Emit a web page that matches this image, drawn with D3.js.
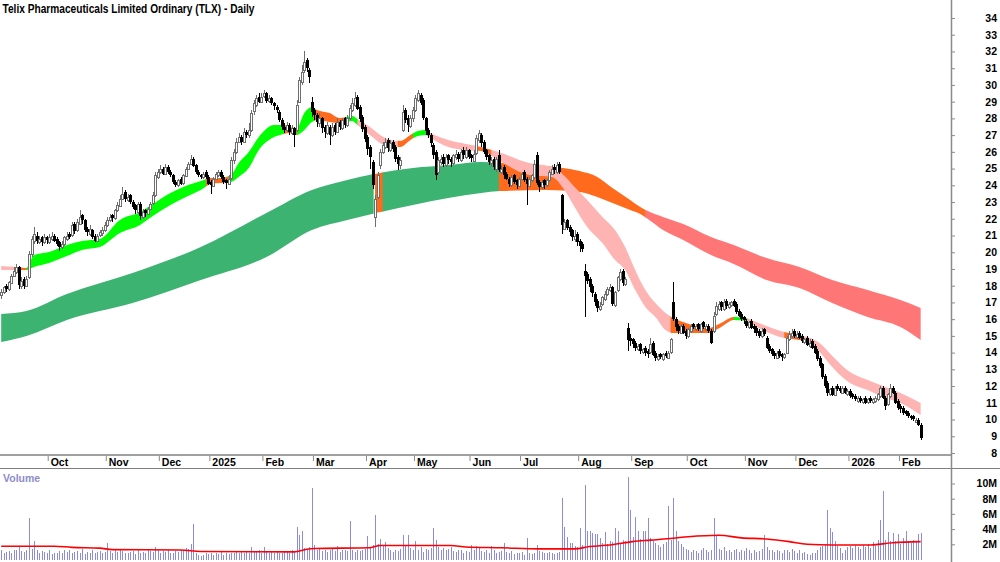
<!DOCTYPE html>
<html>
<head>
<meta charset="utf-8">
<script src="https://cdn.jsdelivr.net/npm/d3@7"></script>
<style>
  body { margin: 0; background: #fff; }
  svg { display: block; font-family: "Liberation Sans", Arial, sans-serif; }
</style>
</head>
<body>
<svg width="1000" height="562"></svg>
<script>
// ---------- data ----------
const title = "Telix Pharmaceuticals Limited Ordinary (TLX) - Daily";
const firstDay = "2024-09-04";
// ASX non-trading weekdays inside the range
const holidays = ["2024-12-25","2024-12-26","2025-01-01","2025-01-27","2025-04-18","2025-04-21",
  "2025-04-25","2025-06-09","2025-12-25","2025-12-26","2026-01-01","2026-01-26"];
const monthLabels = ["Oct","Nov","Dec","2025","Feb","Mar","Apr","May","Jun","Jul","Aug","Sep",
  "Oct","Nov","Dec","2026","Feb"];
const priceTicks = d3.range(8, 35);
const volTicks = [2, 4, 6, 8, 10];

const open = [
  17.4,17.6,18.0,17.8,18.2,18.6,18.8,19.1,18.0,18.4, 18.0,18.5,19.9,20.7,21.0,20.6,20.9,20.6,20.9,20.6,
  20.8,21.0,20.8,20.6,20.3,20.5,20.8,21.1,21.0,21.7, 21.3,21.7,22.2,21.9,21.4,21.1,21.3,21.0,20.7,21.0,
  21.1,21.3,21.6,21.9,22.2,22.0,22.5,22.8,23.2,23.6, 23.1,23.4,23.0,22.8,22.4,22.9,22.1,22.5,22.3,22.6,
  22.9,23.4,24.5,24.8,25.0,24.7,25.1,24.8,24.6,24.2, 24.0,24.4,24.1,24.6,25.0,25.3,25.6,25.2,24.8,24.6,
  24.5,24.8,24.5,24.2,24.0,24.4,24.6,24.8,24.5,24.3, 24.1,24.4,25.5,26.0,26.6,26.9,26.6,27.2,27.0,27.3,
  28.4,28.8,29.3,29.0,29.3,29.5,29.0,29.2,28.9,28.7, 28.4,27.9,27.5,27.3,27.6,27.1,27.4,27.3,29.0,30.2,
  30.9,31.5,30.9,29.0,28.5,28.2,27.7,28.0,27.5,27.1, 27.5,27.0,27.6,27.2,27.8,27.4,28.0,27.6,28.0,28.5,
  28.8,29.3,28.7,28.1,27.5,26.9,26.3,25.4,22.1,23.3, 25.2,26.0,26.3,26.7,26.1,26.6,26.3,25.7,25.2,27.3,
  28.5,28.0,27.5,28.0,28.5,29.1,29.4,29.1,28.0,27.3, 27.0,26.4,26.0,24.8,25.4,25.7,25.2,25.8,25.6,25.3,
  25.7,25.9,25.5,26.1,25.7,26.1,25.8,25.5,25.9,26.7, 27.0,26.6,26.1,25.8,25.3,25.6,25.0,25.8,24.8,25.1,
  24.7,24.4,24.0,24.6,24.3,24.0,24.4,24.8,24.4,24.0, 24.3,24.5,25.8,24.2,23.9,24.3,24.0,24.3,24.7,25.1,
  24.8,25.3,23.4,21.4,21.9,21.5,21.3,20.8,21.1,20.7, 20.5,18.9,18.7,18.4,18.0,17.5,17.1,16.6,16.9,17.2,
  17.5,17.7,17.9,16.8,17.7,18.4,18.9,18.1,15.5,14.9, 14.8,14.6,14.2,14.5,14.0,14.3,14.1,14.0,14.6,14.0,
  13.6,13.9,13.6,14.0,13.7,14.0,17.0,16.0,15.6,15.2, 15.6,15.3,15.0,15.3,15.7,15.4,15.7,15.3,15.8,15.4,
  15.6,15.3,15.3,16.3,16.6,17.0,16.6,17.1,16.7,16.8, 17.1,16.9,16.5,16.3,16.1,15.9,15.5,15.9,15.6,15.5,
  15.3,15.0,15.4,14.9,14.4,14.2,14.0,13.7,14.1,13.9, 13.7,14.0,14.8,15.0,15.3,14.9,15.2,15.0,14.6,14.9,
  14.4,14.7,14.4,14.1,13.7,13.3,12.6,12.2,11.5,11.9, 11.5,12.0,11.9,11.6,11.9,11.5,11.7,11.5,11.4,11.1,
  11.3,11.0,11.3,11.0,11.3,11.0,11.1,11.2,11.4,11.9, 11.3,10.9,11.4,11.9,11.6,11.1,10.8,10.7,10.5,10.4,
  10.2,10.2,9.9,10.0,9.7
];
const high = [
  17.8,18.0,18.1,18.3,18.7,19.1,19.3,19.2,18.5,18.5, 18.6,20.1,21.0,21.5,21.2,21.0,21.0,21.1,21.0,21.1,
  21.2,21.1,20.9,20.7,20.7,21.0,21.2,21.2,21.8,21.8, 22.0,22.5,22.3,22.0,21.5,21.6,21.4,21.1,21.1,21.3,
  21.5,21.8,22.1,22.3,22.3,22.6,23.0,23.4,23.9,23.7, 23.5,23.5,23.1,22.9,23.0,23.0,22.6,22.6,22.7,23.0,
  23.6,24.8,25.0,25.2,25.1,25.3,25.2,24.9,24.7,24.3, 24.4,24.5,24.7,25.1,25.4,25.8,25.7,25.3,24.9,24.7,
  24.8,24.9,24.6,24.3,24.5,24.8,24.9,24.9,24.6,24.4, 24.6,25.7,26.2,26.8,27.1,27.0,27.4,27.3,27.7,28.5,
  29.1,29.4,29.5,29.5,29.7,29.6,29.4,29.3,29.0,28.8, 28.5,28.0,27.7,27.8,27.7,27.6,27.5,29.1,30.5,31.2,
  32.0,31.6,31.0,29.3,28.6,28.3,28.3,28.1,27.6,27.8, 27.6,27.7,27.7,28.0,27.9,28.0,28.1,28.2,28.8,29.2,
  29.6,29.4,28.8,28.2,27.6,27.0,26.4,25.5,23.4,24.8, 26.2,26.6,26.8,26.8,26.7,26.7,26.4,25.8,25.7,28.8,
  28.6,28.2,28.2,28.7,29.4,29.7,29.5,29.2,28.1,27.4, 27.1,26.5,26.1,25.7,25.8,25.9,25.9,25.9,25.7,25.9,
  26.1,26.0,26.2,26.3,26.3,26.2,25.9,26.1,27.0,27.3, 27.1,26.7,26.2,25.9,25.7,25.7,25.7,26.1,25.2,25.2,
  24.8,24.5,24.6,24.7,24.4,24.5,24.8,24.9,24.5,24.5, 24.7,25.5,26.0,24.3,24.3,24.4,24.4,24.9,25.2,25.3,
  25.4,25.4,23.5,22.0,22.0,21.6,21.4,21.3,21.2,20.8, 20.6,19.3,18.8,18.5,18.1,17.6,17.2,17.0,17.4,17.7,
  17.9,18.1,18.0,17.7,18.6,19.0,19.0,18.5,15.8,15.1, 14.9,14.7,14.5,14.6,14.3,14.4,14.2,14.9,14.7,14.1,
  13.9,14.0,14.0,14.1,14.1,14.9,18.2,16.1,15.7,15.7, 15.7,15.4,15.5,15.7,15.8,15.7,15.8,15.8,15.9,15.7,
  15.7,15.4,16.4,17.0,17.1,17.1,17.2,17.2,17.0,17.1, 17.2,17.0,16.6,16.4,16.2,16.0,15.9,16.0,15.7,15.6,
  15.4,15.5,15.5,15.0,14.5,14.3,14.1,14.1,14.2,14.0, 14.0,15.0,15.3,15.4,15.4,15.3,15.3,15.1,14.9,15.0,
  14.8,14.8,14.5,14.2,13.8,13.4,12.7,12.3,11.9,12.0, 12.0,12.1,12.0,12.0,12.0,11.8,11.8,11.6,11.5,11.4,
  11.4,11.3,11.4,11.3,11.4,11.3,11.4,11.6,12.0,12.0, 11.4,11.6,12.1,12.0,11.7,11.2,10.9,10.8,10.6,10.5,
  10.3,10.3,10.1,10.1,9.8
];
const low = [
  17.2,17.5,17.6,17.7,18.1,18.5,18.7,17.8,17.8,17.8, 17.9,18.4,19.7,20.5,20.5,20.5,20.4,20.5,20.5,20.5,
  20.7,20.6,20.4,20.1,20.2,20.4,20.7,20.8,20.9,21.1, 21.2,21.6,21.7,21.2,21.0,21.0,20.8,20.6,20.6,20.9,
  21.0,21.2,21.5,21.8,21.8,21.9,22.4,22.7,23.1,23.0, 23.0,22.9,22.6,22.3,22.3,21.9,22.0,22.1,22.2,22.5,
  22.8,23.3,24.4,24.7,24.6,24.6,24.7,24.5,24.1,23.9, 23.9,24.0,24.0,24.5,24.9,25.2,25.1,24.7,24.5,24.4,
  24.4,24.4,24.0,23.5,23.9,24.3,24.5,24.4,24.1,23.8, 24.0,24.3,25.3,25.9,26.5,26.4,26.5,26.8,26.8,27.2,
  28.2,28.7,28.9,28.9,29.2,28.9,28.9,28.8,28.5,28.3, 27.8,27.3,27.1,27.2,27.0,27.0,26.3,27.2,28.9,30.0,
  30.7,30.8,30.1,28.1,27.9,27.5,27.5,27.1,26.8,27.0, 26.4,26.9,27.0,27.1,27.3,27.3,27.4,27.5,27.9,28.4,
  28.7,28.5,27.8,27.2,26.6,25.8,25.0,23.8,21.5,23.2, 25.0,25.9,26.2,26.0,26.0,26.0,25.4,24.9,25.0,27.2,
  27.7,27.2,27.4,27.8,28.4,29.0,28.8,27.9,27.0,26.8, 26.3,25.6,24.3,24.7,25.2,25.1,25.1,25.3,25.1,25.2,
  25.5,25.4,25.4,25.6,25.6,25.6,25.4,25.4,25.8,26.5, 26.3,25.9,25.5,25.2,25.1,24.9,24.8,24.8,24.7,24.4,
  24.3,23.9,23.9,24.1,23.8,23.9,24.3,24.2,22.8,23.9, 24.2,24.4,24.0,23.6,23.8,23.8,23.9,24.2,24.6,24.7,
  24.7,24.7,21.1,21.3,21.3,21.0,20.7,20.6,20.4,20.0, 20.0,16.1,18.1,17.6,17.3,16.8,16.4,16.5,16.8,17.1,
  17.4,17.6,16.8,16.7,17.6,18.3,18.0,18.0,14.1,14.4, 14.3,14.1,14.1,13.9,13.9,13.8,13.7,13.9,13.8,13.5,
  13.5,13.6,13.5,13.7,13.6,13.9,15.9,15.3,15.1,15.1, 15.1,14.8,14.9,15.2,15.4,15.3,15.3,15.2,15.4,15.3,
  15.2,14.5,15.2,16.2,16.5,16.5,16.5,16.6,16.6,16.7, 16.7,16.3,16.1,15.9,15.7,15.5,15.4,15.4,15.2,15.0,
  14.9,14.9,15.0,14.2,14.0,13.8,13.6,13.6,13.7,13.5, 13.6,13.9,14.7,14.9,14.9,14.8,14.8,14.6,14.5,14.4,
  14.3,14.2,13.9,13.5,13.1,12.4,11.9,11.4,11.4,11.4, 11.4,11.7,11.6,11.5,11.5,11.4,11.3,11.2,11.1,11.0,
  11.0,10.9,10.9,10.9,11.0,10.9,11.0,11.1,11.3,11.2, 10.6,10.8,11.3,11.5,10.9,10.6,10.4,10.3,10.2,10.1,
  10.0,9.9,9.8,9.6,8.8
];
const close = [
  17.6,17.9,17.8,18.2,18.6,18.9,19.1,18.0,18.3,18.0, 18.4,19.9,20.8,21.1,20.7,20.8,20.6,20.9,20.7,20.9,
  21.0,20.7,20.5,20.3,20.5,20.9,21.0,20.9,21.6,21.3, 21.8,22.1,21.9,21.3,21.2,21.4,20.9,20.7,21.0,21.2,
  21.3,21.6,21.9,22.1,22.0,22.5,22.8,23.2,23.5,23.2, 23.3,23.0,22.7,22.5,22.9,22.2,22.4,22.3,22.6,22.9,
  23.4,24.6,24.8,25.0,24.7,25.1,24.8,24.6,24.2,24.0, 24.3,24.1,24.6,25.0,25.3,25.6,25.2,24.8,24.6,24.5,
  24.7,24.5,24.1,24.0,24.4,24.7,24.8,24.5,24.2,24.1, 24.4,25.5,26.0,26.6,26.9,26.6,27.2,27.0,27.3,28.3,
  28.9,29.2,29.0,29.3,29.5,29.0,29.2,28.9,28.7,28.5, 27.9,27.5,27.3,27.6,27.2,27.4,27.0,28.8,30.3,30.8,
  31.4,31.0,30.5,28.4,28.2,27.8,28.0,27.4,27.2,27.6, 27.0,27.5,27.2,27.8,27.5,27.9,27.6,28.0,28.6,28.9,
  29.2,28.6,28.0,27.4,26.8,26.2,25.7,24.0,23.2,24.6, 26.0,26.4,26.6,26.2,26.5,26.2,25.6,25.3,25.5,28.4,
  27.9,27.6,28.0,28.5,29.2,29.5,28.9,28.0,27.2,27.0, 26.5,25.8,24.6,25.5,25.6,25.3,25.7,25.5,25.4,25.8,
  25.9,25.6,26.0,25.8,26.1,25.7,25.6,25.9,26.8,27.1, 26.5,26.0,25.7,25.4,25.5,25.1,25.6,24.9,25.0,24.6,
  24.4,24.1,24.5,24.2,24.0,24.4,24.7,24.3,24.1,24.4, 24.6,25.3,24.1,23.9,24.2,24.0,24.3,24.8,25.0,24.9,
  25.2,24.8,21.6,21.8,21.4,21.2,20.9,21.0,20.6,20.4, 20.2,18.6,18.3,17.9,17.6,17.0,16.7,16.8,17.3,17.5,
  17.8,17.9,16.9,17.6,18.5,18.8,18.2,18.4,14.8,14.7, 14.5,14.3,14.4,14.1,14.2,14.0,13.9,14.5,13.9,13.7,
  13.8,13.7,13.9,13.8,14.0,14.8,16.0,15.5,15.3,15.6, 15.2,15.0,15.4,15.6,15.5,15.6,15.4,15.7,15.5,15.6,
  15.3,14.6,16.2,16.8,16.9,16.7,17.0,16.8,16.9,17.0, 16.8,16.4,16.2,16.0,15.9,15.6,15.8,15.5,15.4,15.2,
  15.0,15.3,15.1,14.3,14.1,13.9,13.8,14.0,13.8,13.7, 13.9,14.9,15.1,15.2,15.0,15.1,14.9,14.7,14.8,14.5,
  14.6,14.3,14.0,13.6,13.2,12.5,12.0,11.6,11.8,11.5, 11.9,11.8,11.7,11.9,11.6,11.7,11.4,11.3,11.2,11.3,
  11.1,11.2,11.0,11.2,11.1,11.2,11.3,11.5,11.9,11.3, 10.8,11.5,11.9,11.6,11.0,10.7,10.6,10.4,10.3,10.2,
  10.1,10.0,10.0,9.7,8.9
];
// volume, millions of shares
const volume = [
  1.2,0.9,1.0,1.1,0.9,1.3,1.2,1.6,1.1,1.0, 1.3,5.5,1.4,2.5,1.2,0.9,1.1,1.0,0.8,1.2,
  0.7,0.8,0.9,1.1,0.8,1.2,1.0,1.3,0.9,1.0, 1.1,0.8,1.4,0.7,1.0,0.9,1.2,0.8,1.0,1.1,
  0.9,1.0,2.2,1.1,0.8,1.2,1.0,1.3,1.1,0.9, 0.8,1.0,1.1,0.7,1.2,0.9,1.0,0.8,1.3,1.1,
  1.0,1.7,1.2,0.9,1.1,1.0,1.2,0.8,0.9,1.1, 1.0,1.3,1.2,1.5,1.4,2.0,4.7,0.9,0.6,0.5,
  0.6,0.8,0.7,0.9,0.6,0.8,0.7,1.0,0.6,0.8, 0.7,0.9,0.8,1.0,0.9,1.1,0.8,1.0,0.9,1.7,
  1.1,1.0,1.2,0.9,1.7,1.0,0.8,1.1,0.9,1.0, 0.8,0.9,1.1,1.0,0.8,1.2,1.0,4.3,3.2,3.7,
  1.5,1.3,1.6,9.4,1.9,1.2,1.4,1.1,1.3,1.0, 1.2,1.4,1.1,1.8,1.0,1.2,1.3,1.1,5.1,1.2,
  1.0,1.3,1.1,1.2,1.4,3.1,1.6,1.9,5.9,2.1, 2.7,1.8,2.3,1.5,1.2,1.0,1.3,1.1,1.4,3.2,
  1.9,3.2,1.5,1.3,2.4,1.2,1.6,1.0,1.4,1.3, 1.5,4.2,2.6,1.7,1.3,1.5,1.2,1.4,1.6,1.1,
  1.0,1.3,1.2,0.9,1.1,1.0,1.9,1.2,1.8,1.5, 1.1,1.0,1.3,0.9,1.8,1.2,0.8,1.0,1.1,2.2,
  1.0,0.8,1.1,0.7,0.9,0.8,1.0,0.6,2.8,0.9, 0.7,0.8,1.9,1.1,1.0,0.8,0.9,1.0,0.8,0.7,
  0.9,1.0,8.1,4.3,3.0,2.2,2.2,1.8,1.6,4.1, 1.9,9.8,3.75,3.7,3.5,3.4,3.3,2.8,2.2,3.6,
  2.0,2.5,2.3,4.1,3.8,2.0,2.6,2.4,10.9,6.5, 2.9,5.6,3.8,2.7,3.7,3.8,5.5,2.8,2.5,2.2,
  1.9,1.7,2.0,2.3,7.0,2.6,8.1,3.8,2.4,2.0, 1.6,1.4,1.2,1.0,1.3,1.1,0.9,1.2,1.5,1.3,
  1.0,1.2,5.5,3.2,1.4,1.2,1.6,1.1,1.3,1.0, 1.2,1.4,1.0,1.3,1.1,1.5,1.2,0.9,1.3,1.0,
  1.1,1.4,3.2,1.6,1.2,1.3,1.0,1.2,1.1,0.9, 1.3,1.2,1.0,1.4,1.1,0.9,1.2,0.8,1.0,0.7,
  0.6,0.8,0.9,1.2,1.6,1.8,2.0,6.5,4.1,3.6, 2.4,1.8,1.5,0.8,1.2,1.6,1.8,1.5,1.9,1.7,
  1.4,1.9,1.6,2.0,1.5,2.3,1.8,2.6,5.2,9.0, 2.6,3.6,2.5,3.5,2.4,3.3,2.1,2.8,3.75,2.4,
  2.2,2.6,2.3,3.4,3.5
];
// volume moving average, read at sampled bars
const volMaIdx = [0,21,28,39,44,71,79,116,121,124,146,150,178,184,198,213,227,233,241,250,257,266,272,284,293,303,312,319,329,343,353,364];
const volMa = [1.75,1.75,1.6,1.5,1.3,1.25,1.05,1.0,1.35,1.45,1.55,1.85,1.85,1.65,1.55,1.4,1.4,1.7,1.9,2.35,2.55,2.8,3.0,3.2,2.85,2.7,2.35,2.0,1.9,1.9,2.2,2.35];

// short-term average ribbon, edges read at sampled bars
const shortIdx = [0,6,10,13,19,26,32,39,47,55, 60,67,74,79,83,87,91,94,98,102, 108,112,114,117,120,123,125,130,134,139,
  141,146,150,154,158,162,165,168,170,177, 184,190,198,209,218,223,227,232,238,243, 247,251,255,259,263,266,270,275,280,285,
  290,295,297,303,310,316,319,324,329,336, 343,349,356,364];
const shortHi = [19.18,19.12,19.06,19.83,20.01,20.43,20.67,20.79,21.93,22.40, 22.88,23.54,24.02,24.26,24.44,24.44,24.62,25.33,25.99,26.89,
  27.60,27.60,27.48,27.42,28.32,28.68,28.50,28.32,28.02,28.14, 27.96,27.48,27.01,26.71,26.65,27.01,27.25,27.31,27.13,26.71,
  26.47,26.29,25.93,25.33,25.09,24.56,23.90,23.12,22.11,21.33, 20.31,18.94,17.74,16.96,16.37,16.07,15.83,15.59,15.47,15.77,
  16.13,16.07,15.95,15.59,15.23,15.05,14.93,14.57,13.80,12.84, 12.36,12.00,11.59,10.99];
const shortLo = [18.94,18.94,18.94,19.12,19.36,19.77,20.13,20.31,21.15,21.63, 22.16,22.82,23.36,23.72,24.08,24.14,24.20,24.50,25.03,26.11,
  26.89,27.07,27.13,27.01,27.31,27.78,27.90,27.78,27.72,27.84, 27.60,27.01,26.53,26.29,26.29,26.71,26.95,27.01,26.83,26.29,
  26.11,26.05,25.39,24.62,24.50,23.72,22.70,21.51,20.55,19.53, 18.94,17.74,16.73,16.13,15.35,15.17,15.17,15.17,15.17,15.53,
  15.95,15.89,15.71,15.23,14.87,14.75,14.63,14.04,13.14,12.18, 11.76,11.35,10.99,10.27];
const shortSegStart = [0,6,10,81,90,112,117,124,136,141,157,163,169,188,194,265,290,295,310,317];
const shortSegState = ["bear","mixed","bull","mixed","bull","mixed","bull","mixed","bull","bear",
  "mixed","bull","bear","mixed","bear","mixed","bull","bear","mixed","bear"];

// long-term average ribbon
const longIdx = [0,10,26,52,79,105,123,137,150,163,177,190,198,216,229,236,242,249,253,256,262,270,281,290,303,316,329,343,356,364];
const longHi = [16.31,16.49,17.50,18.76,20.31,22.34,23.72,24.32,24.74,25.03,25.21,25.39,25.33,25.15,24.85,
  24.50,23.84,23.12,22.70,22.46,22.11,21.69,20.91,20.43,19.65,19.12,18.34,17.74,17.14,16.67];
const longLo = [14.63,14.99,15.95,16.96,18.34,19.71,21.33,21.93,22.40,22.82,23.24,23.54,23.66,23.72,23.60,
  23.30,22.94,22.52,22.28,21.99,21.33,20.73,19.83,19.30,18.34,17.86,16.96,16.13,15.53,14.75];
const longSegStart = [0,148,151,197,255];
const longSegState = ["bull","mixed","bull","mixed","bear"];

const shortColors = {bull: "#00ff00", mixed: "#ff6a1c", bear: "#ffb4b4"};
const longColors = {bull: "#3cb371", mixed: "#ff6a1c", bear: "#ff7676"};

// ---------- layout ----------
const svg = d3.select("svg"),
    width = +svg.attr("width"),
    height = +svg.attr("height");
const axisX = 951;          // right hand axis line
const N = close.length;

// trading calendar, so the month ticks land on the first session of each month
const parseDay = d3.timeParse("%Y-%m-%d"), fmtDay = d3.timeFormat("%Y-%m-%d");
const dates = [];
let day = parseDay(firstDay);
while (dates.length < N) {
  const wd = day.getDay();
  if (wd !== 0 && wd !== 6 && !holidays.includes(fmtDay(day))) dates.push(day);
  day = d3.timeDay.offset(day, 1);
}
const tickIdx = d3.range(1, N).filter(i => dates[i].getMonth() !== dates[i - 1].getMonth());

const x = d3.scaleLinear().domain([0, N - 1]).range([1.2, 1.2 + (N - 1) * 2.526]);
const y = d3.scaleLinear().domain([8, 34]).range([453, 18]);
const yv = d3.scaleLinear().domain([0, 10]).range([559.5, 483.5]);
const cx = i => Math.round(x(i));

const defs = svg.append("defs");

// ribbons, cut into coloured pieces with clip rects
function drawRibbon(idx, hi, lo, segStart, segState, colors, name) {
  const pts = idx.map((i, k) => ({i: i, hi: hi[k], lo: lo[k]}));
  const area = d3.area()
      .x(p => x(p.i))
      .y0(p => y(p.lo))
      .y1(p => y(p.hi))
      .curve(d3.curveMonotoneX);
  const g = svg.append("g");
  segStart.forEach((s, k) => {
    const last = k === segStart.length - 1;
    const e = last ? N - 1 : segStart[k + 1];
    defs.append("clipPath").attr("id", name + k)
      .append("rect")
        .attr("x", x(s) - (k === 0 ? 2 : 0))
        .attr("y", 0)
        .attr("width", x(e) - x(s) + (last ? 3 : 0.6))
        .attr("height", 455);
    g.append("path")
        .datum(pts)
        .attr("d", area)
        .attr("fill", colors[segState[k]])
        .attr("clip-path", "url(#" + name + k + ")");
  });
}
drawRibbon(longIdx, longHi, longLo, longSegStart, longSegState, longColors, "lr");
drawRibbon(shortIdx, shortHi, shortLo, shortSegStart, shortSegState, shortColors, "sr");

// candles
const bars = d3.range(N);
const up = i => close[i] >= open[i];
const cg = svg.append("g").attr("shape-rendering", "crispEdges");
cg.selectAll("line")
  .data(bars)
  .join("line")
    .attr("x1", i => cx(i) + 0.5).attr("x2", i => cx(i) + 0.5)
    .attr("y1", i => y(high[i])).attr("y2", i => y(low[i]))
    .attr("stroke", i => up(i) ? "#6e6e6e" : "#000")
    .attr("stroke-width", 1);
cg.selectAll("rect")
  .data(bars)
  .join("rect")
    .attr("x", i => up(i) ? cx(i) - 0.5 : cx(i) - 1)
    .attr("width", i => up(i) ? 2 : 3)
    .attr("y", i => Math.round(y(Math.max(open[i], close[i]))) + (up(i) ? 0.5 : 0))
    .attr("height", i => Math.max(1, Math.round(Math.abs(y(open[i]) - y(close[i])))))
    .attr("fill", i => up(i) ? "#fff" : "#000")
    .attr("stroke", i => up(i) ? "#6e6e6e" : "none")
    .attr("stroke-width", 1);

// volume bars and average
svg.append("g").attr("shape-rendering", "crispEdges")
  .selectAll("line")
  .data(bars)
  .join("line")
    .attr("x1", i => cx(i) + 0.5).attr("x2", i => cx(i) + 0.5)
    .attr("y1", yv(0)).attr("y2", i => yv(volume[i]))
    .attr("stroke", "#8c8cdc");

svg.append("path")
    .datum(volMaIdx.map((i, k) => [i, volMa[k]]))
    .attr("fill", "none")
    .attr("stroke", "#ff0000")
    .attr("stroke-width", 1.6)
    .attr("d", d3.line().x(d => x(d[0])).y(d => yv(d[1])).curve(d3.curveMonotoneX));

// frame
svg.append("line").attr("x1", 0).attr("x2", axisX).attr("y1", 455).attr("y2", 455)
    .attr("stroke", "#a0a0a0").attr("stroke-width", 2);
svg.append("line").attr("x1", 0).attr("x2", width).attr("y1", 468.5).attr("y2", 468.5)
    .attr("stroke", "#808080").attr("stroke-width", 1);
svg.append("line").attr("x1", axisX + 0.5).attr("x2", axisX + 0.5).attr("y1", 0).attr("y2", height)
    .attr("stroke", "#8a8a8a").attr("stroke-width", 1.5);

// price axis
const pAxis = svg.append("g")
    .attr("transform", `translate(${axisX},0)`)
    .call(d3.axisRight(y).tickValues(priceTicks).tickSize(4).tickFormat(d3.format("d")));
pAxis.select(".domain").remove();
pAxis.selectAll(".tick line").attr("stroke", "#8a8a8a");
pAxis.selectAll(".tick text")
    .attr("x", 997 - axisX).attr("text-anchor", "end")
    .attr("font-family", "'Liberation Sans', Arial, sans-serif")
    .attr("font-weight", "bold").attr("font-size", 10.5).attr("fill", "#000");

// volume axis
const vAxis = svg.append("g")
    .attr("transform", `translate(${axisX},0)`)
    .call(d3.axisRight(yv).tickValues(volTicks).tickSize(4).tickFormat(d => d + "M"));
vAxis.select(".domain").remove();
vAxis.selectAll(".tick line").attr("stroke", "#8a8a8a");
vAxis.selectAll(".tick text")
    .attr("x", 997 - axisX).attr("text-anchor", "end")
    .attr("font-family", "'Liberation Sans', Arial, sans-serif")
    .attr("font-weight", "bold").attr("font-size", 10.5).attr("fill", "#000");

// month axis
const xAxis = svg.append("g")
    .attr("transform", "translate(0,456)")
    .call(d3.axisBottom(x).tickValues(tickIdx).tickSize(5).tickFormat((d, k) => monthLabels[k]));
xAxis.select(".domain").remove();
xAxis.selectAll(".tick line").attr("stroke", "#8a8a8a").attr("transform", "translate(-1.5,0)");
xAxis.selectAll(".tick text")
    .attr("x", 1).attr("y", 3).attr("text-anchor", "start")
    .attr("font-family", "'Liberation Sans', Arial, sans-serif")
    .attr("font-weight", "bold").attr("font-size", 10.5).attr("fill", "#000");

// labels
svg.append("text")
    .attr("x", 2.5).attr("y", 12.5)
    .attr("font-weight", "bold").attr("font-size", 12)
    .attr("textLength", 252).attr("lengthAdjust", "spacingAndGlyphs")
    .text(title);
svg.append("text")
    .attr("x", 3).attr("y", 482)
    .attr("font-weight", "bold").attr("font-size", 10.5).attr("fill", "#8c8cc8")
    .text("Volume");
</script>
</body>
</html>
